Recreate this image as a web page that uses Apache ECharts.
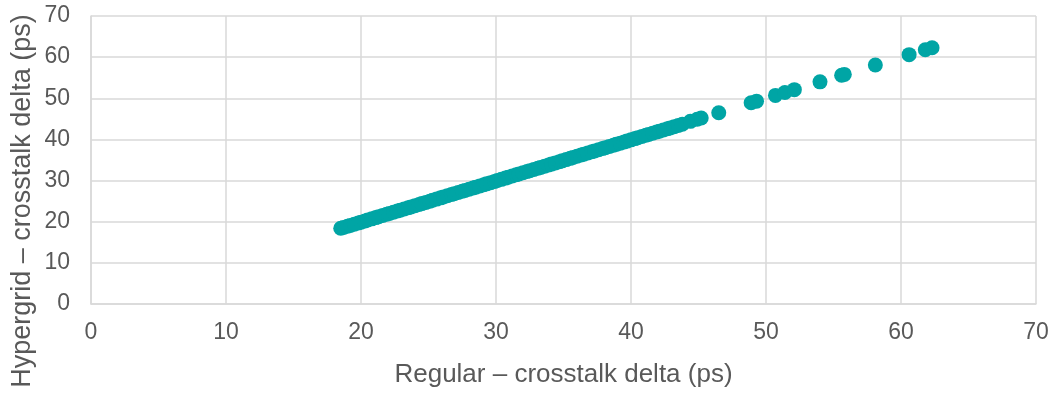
<!DOCTYPE html>
<html>
<head>
<meta charset="utf-8">
<script src="https://cdn.jsdelivr.net/npm/echarts@6/dist/echarts.min.js"></script>
<style>
  html, body { margin: 0; padding: 0; background: #ffffff; }
  #chart { width: 1051px; height: 397px; }
</style>
</head>
<body>
<div id="chart"></div>
<script>
// Crosstalk delta per net: regular grid (x) vs hypergrid (y), in ps
const regularDelta = [
  18.5, 18.7, 19.0, 19.2, 19.5, 19.8, 20.0, 20.3, 20.5, 20.8,
  21.1, 21.3, 21.6, 21.9, 22.1, 22.4, 22.7, 22.9, 23.2, 23.5,
  23.7, 24.0, 24.3, 24.5, 24.8, 25.1, 25.3, 25.6, 25.9, 26.1,
  26.4, 26.7, 26.9, 27.2, 27.5, 27.7, 28.0, 28.3, 28.5, 28.8,
  29.1, 29.3, 29.6, 29.9, 30.1, 30.4, 30.7, 30.9, 31.2, 31.5,
  31.7, 32.0, 32.3, 32.5, 32.8, 33.1, 33.3, 33.6, 33.9, 34.1,
  34.4, 34.7, 34.9, 35.2, 35.5, 35.7, 36.0, 36.3, 36.5, 36.8,
  37.1, 37.3, 37.6, 37.9, 38.1, 38.4, 38.7, 38.9, 39.2, 39.5,
  39.7, 40.0, 40.3, 40.5, 40.8, 41.1, 41.3, 41.6, 41.9, 42.1,
  42.4, 42.7, 42.9, 43.2, 43.5, 43.8,
  44.4, 44.9, 45.2, 46.5, 48.9, 49.3, 50.7, 51.4, 52.1, 54.0,
  55.6, 55.8, 58.1, 60.6, 61.8, 62.3
];
const hypergridDelta = [
  18.4, 18.6, 18.9, 19.1, 19.4, 19.7, 19.9, 20.2, 20.4, 20.7,
  21.0, 21.2, 21.5, 21.8, 22.0, 22.3, 22.6, 22.8, 23.1, 23.4,
  23.6, 23.9, 24.2, 24.4, 24.7, 25.0, 25.2, 25.5, 25.8, 26.0,
  26.3, 26.6, 26.8, 27.1, 27.4, 27.6, 27.9, 28.2, 28.4, 28.7,
  29.0, 29.2, 29.5, 29.8, 30.0, 30.3, 30.6, 30.8, 31.1, 31.4,
  31.6, 31.9, 32.2, 32.4, 32.7, 33.0, 33.2, 33.5, 33.8, 34.0,
  34.3, 34.6, 34.8, 35.1, 35.4, 35.6, 35.9, 36.2, 36.4, 36.7,
  37.0, 37.2, 37.5, 37.8, 38.0, 38.3, 38.6, 38.8, 39.1, 39.4,
  39.6, 39.9, 40.2, 40.4, 40.7, 41.0, 41.2, 41.5, 41.8, 42.0,
  42.3, 42.6, 42.8, 43.1, 43.4, 43.7,
  44.4, 44.9, 45.2, 46.5, 48.9, 49.3, 50.7, 51.4, 52.1, 54.0,
  55.6, 55.8, 58.1, 60.6, 61.8, 62.3
];
const xAxisTitle = 'Regular – crosstalk delta (ps)';
const yAxisTitle = 'Hypergrid – crosstalk delta (ps)';

const points = regularDelta.map((x, i) => [x, hypergridDelta[i]]);

const FONT = '"Liberation Sans", Arial, sans-serif';
const TEXT = '#595959';
const GRID = '#d9d9d9';

const chart = echarts.init(document.getElementById('chart'), null, { renderer: 'canvas' });
chart.setOption({
  animation: false,
  backgroundColor: '#ffffff',
  grid: { left: 91, right: 15, top: 16, bottom: 93, containLabel: false, outerBoundsMode: 'none' },
  xAxis: {
    type: 'value', min: 0, max: 70, interval: 10,
    name: xAxisTitle, nameLocation: 'middle', nameGap: 58,
    nameTextStyle: { color: TEXT, fontFamily: FONT, fontSize: 26 },
    axisLine: { show: true, lineStyle: { color: GRID, width: 1.5 } },
    axisTick: { show: false },
    axisLabel: { color: TEXT, fontFamily: FONT, fontSize: 23, margin: 17 },
    splitLine: { show: true, lineStyle: { color: GRID, width: 1.5 } }
  },
  yAxis: {
    type: 'value', min: 0, max: 70, interval: 10,
    axisLine: { show: true, lineStyle: { color: GRID, width: 1.5 } },
    axisTick: { show: false },
    axisLabel: { color: TEXT, fontFamily: FONT, fontSize: 23, margin: 21 },
    splitLine: { show: true, lineStyle: { color: GRID, width: 1.5 } }
  },
  // vertical axis title, centred on the full chart height
  graphic: [{
    type: 'text',
    x: 23, y: 201,
    rotation: Math.PI / 2,
    style: {
      text: yAxisTitle,
      fill: TEXT,
      font: '27px ' + FONT,
      align: 'center',
      verticalAlign: 'middle'
    }
  }],
  series: [{
    type: 'scatter',
    data: points,
    symbol: 'circle',
    symbolSize: 15,
    itemStyle: { color: '#00a5a5', opacity: 1 }
  }]
});
</script>
</body>
</html>
